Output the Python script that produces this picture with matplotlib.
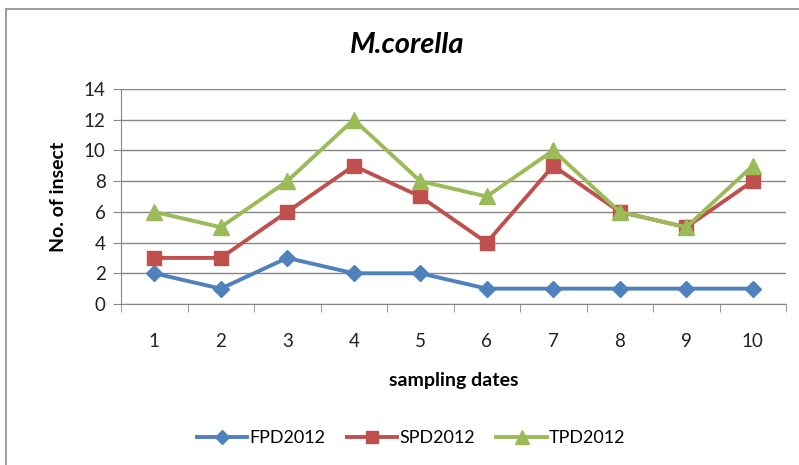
import numpy as np
import matplotlib.pyplot as plt
from matplotlib.patches import Rectangle

dates = [1, 2, 3, 4, 5, 6, 7, 8, 9, 10]
fpd = [2, 1, 3, 2, 2, 1, 1, 1, 1, 1]
spd = [3, 3, 6, 9, 7, 4, 9, 6, 5, 8]
tpd = [6, 5, 8, 12, 8, 7, 10, 6, 5, 9]
y_ticks = [0, 2, 4, 6, 8, 10, 12, 14]

plt.rcParams['font.family'] = ['Lato', 'DejaVu Sans']

fig = plt.figure(figsize=(7.99, 4.65), dpi=100)
W, H = 799, 465

# outer chart border (cut on right and bottom like the reference)
fig.patches.append(Rectangle((6 / W, -0.05), 1.0, 1 - 9 / H + 0.05,
                             transform=fig.transFigure, fill=False,
                             edgecolor='#8c8c8c', linewidth=1.2))

ax = fig.add_axes([121 / W, 1 - 304 / H, (786 - 121) / W, (304 - 89) / H])

grey = '#868686'
ax.plot(dates, fpd, color='#4F81BD', lw=2.8, marker='D', ms=8, label='FPD2012', zorder=3)
ax.plot(dates, spd, color='#C0504D', lw=2.8, marker='s', ms=10, label='SPD2012', zorder=3)
ax.plot(dates, tpd, color='#9BBB59', lw=2.8, marker='^', ms=11, label='TPD2012', zorder=3)

ax.set_xlim(0.5, 10.5)
ax.set_ylim(0, 14)
ax.set_yticks(y_ticks)
ax.set_xticks(dates)
ax.set_xticks(np.arange(0.5, 11, 1), minor=True)
ax.tick_params(axis='x', which='major', length=0, pad=21, labelsize=13.5, colors='#222222')
ax.tick_params(axis='x', which='minor', length=6, color=grey, direction='out')
ax.tick_params(axis='y', length=6, color=grey, labelsize=13.5, colors='#222222', pad=5)
ax.grid(axis='y', color=grey, lw=1)
ax.set_axisbelow(True)
for s in ['top', 'right']:
    ax.spines[s].set_visible(False)
ax.spines['left'].set_color(grey)
ax.spines['bottom'].set_color(grey)

ax.set_ylabel('No. of insect', fontsize=14, fontweight='bold', labelpad=12)
ax.set_xlabel('sampling dates', fontsize=14, fontweight='bold', labelpad=16)
fig.text(407 / W, 1 - 45 / H, 'M.corella', fontsize=21, fontweight='bold',
         fontstyle='italic', ha='center', va='center')

fig.legend(loc='center', bbox_to_anchor=(411 / W, 1 - 438 / H), ncol=3,
           frameon=False, fontsize=13, handlelength=2.8, columnspacing=1.2,
           handletextpad=0.1, markerscale=0.9)

fig.savefig('out.png', dpi=100)
